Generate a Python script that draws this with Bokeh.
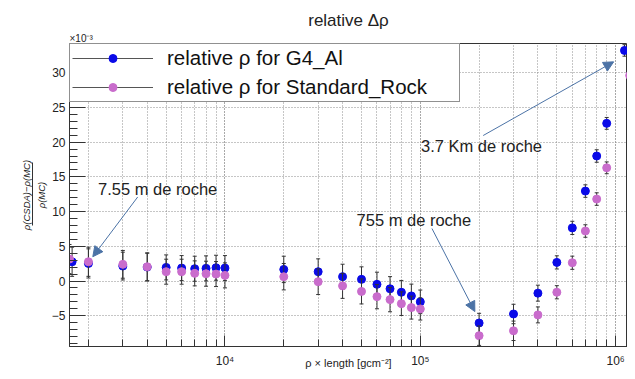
import math
from bokeh.plotting import figure
from bokeh.models import (Range1d, FixedTicker, Label, Arrow, NormalHead, Title,
                          Legend, LegendItem, LinearAxis)
from bokeh.embed import file_html
from bokeh.resources import INLINE

FONT = "Liberation Sans"
TXT = "#222222"

# ---- data (values in units of 1e-3) ----
x_al = [1650, 2000, 3000, 4000, 5000, 6000, 7000, 8000, 9000, 10000,
        20000, 30000, 40000, 50000, 60000, 70000, 80000, 90000, 100000,
        200000, 300000, 400000, 500000, 600000, 700000, 800000, 900000, 1110000]
y_al = [2.77, 2.53, 2.15, 2.0, 1.96, 1.86, 1.77, 1.82, 1.91, 1.86,
        1.67, 1.34, 0.62, 0.24, -0.48, -1.12, -1.62, -2.15, -3.0,
        -6.05, -4.75, -1.75, 2.68, 7.65, 12.95, 18.0, 22.7, 33.2]
err_al = [2.1, 2.1, 2.0, 2.0, 1.8, 1.8, 1.8, 1.8, 1.8, 1.8,
          1.9, 1.85, 1.8, 1.8, 1.75, 1.75, 1.7, 1.7, 1.7,
          1.4, 1.4, 1.15, 0.95, 0.95, 0.9, 0.9, 0.85, 0.83]

x_rock = [1600, 2000, 3000, 4000, 5000, 6000, 7000, 8000, 9000, 10000,
          20000, 30000, 40000, 50000, 60000, 70000, 80000, 90000, 100000,
          200000, 300000, 400000, 500000, 600000, 700000, 800000, 900000, 1180000]
y_rock = [3.16, 2.77, 2.4, 2.05, 1.34, 1.34, 1.1, 1.05, 1.0, 0.81,
          0.62, -0.1, -0.7, -1.5, -2.25, -2.68, -3.26, -3.83, -4.02,
          -7.87, -7.17, -4.88, -1.62, 2.63, 7.2, 11.8, 16.3, 29.6]
err_rock = [2.1, 2.1, 2.0, 2.0, 1.8, 1.8, 1.8, 1.8, 1.8, 1.8,
            1.9, 1.85, 1.8, 1.8, 1.75, 1.75, 1.7, 1.65, 1.6,
            1.4, 1.4, 1.15, 0.95, 0.95, 0.9, 0.9, 0.85, 0.83]

labels_series = ["relative \u03c1 for G4_Al", "relative \u03c1 for Standard_Rock"]
colors_series = ["#0a0ae8", "#c96ccc"]

title_text = "relative \u0394\u03c1"
y_scale_text = "\u00d710\u207b\u00b3"
x_title = "\u03c1 \u00d7 length [gcm\u207b\u00b2]"
y_title_num = "\u03c1(CSDA)\u2212\u03c1(MC)"
y_title_den = "\u03c1(MC)"

x_major = [10000, 100000, 1000000]
x_major_labels = ["10\u2074", "10\u2075", "10\u2076"]
x_minor = [m * 10 ** e for e in (3, 4, 5, 6) for m in range(1, 10)]
y_major = [-5, 0, 5, 10, 15, 20, 25, 30]
y_major_labels = ["\u22125", "0", "5", "10", "15", "20", "25", "30"]
y_minor = list(range(-9, 35))

x_min, x_max = 1600, 1.15e6
y_min, y_max = -9.43, 34.2
frac_bar = (8.0, 17.0)   # extent of the fraction bar of the y title (y data units)

# annotations: text, text position, arrow start, arrow end (data units)
notes = [
    ("7.55 m de roche", (2240, 13.3), (3575, 12.1), (2106, 3.5)),
    ("755 m de roche", (47160, 8.75), (114700, 7.56), (190200, -4.4)),
    ("3.7 Km de roche", (100800, 19.5), (209800, 20.95), (977000, 31.56)),
]

p = figure(width=627, height=371, x_axis_type="log", title=None,
           x_range=Range1d(x_min, x_max), y_range=Range1d(y_min, y_max),
           output_backend="svg", toolbar_location=None,
           min_border_left=69, min_border_right=0,
           min_border_top=43, min_border_bottom=24)
p.background_fill_color = "white"
p.border_fill_color = "white"
p.outline_line_color = "#333333"

# axes
p.xaxis.ticker = FixedTicker(ticks=x_major, minor_ticks=x_minor)
p.xaxis.major_label_overrides = dict(zip(x_major, x_major_labels))
p.yaxis.ticker = FixedTicker(ticks=y_major, minor_ticks=y_minor)
p.yaxis.major_label_overrides = dict(zip(y_major, y_major_labels))
for ax in (p.xaxis, p.yaxis):
    ax.axis_line_color = "#333333"
    ax.major_tick_line_color = "#333333"
    ax.minor_tick_line_color = "#333333"
    ax.major_tick_out = 0
    ax.minor_tick_out = 0
    ax.major_label_text_font = FONT
    ax.major_label_text_font_size = "12px"
    ax.major_label_text_color = TXT
p.xaxis.major_tick_in = 11
p.xaxis.minor_tick_in = 7
p.xaxis.major_label_standoff = 7
p.xaxis.axis_label = x_title
p.xaxis.axis_label_text_font = FONT
p.xaxis.axis_label_text_font_size = "11px"
p.xaxis.axis_label_text_font_style = "normal"
p.xaxis.axis_label_text_color = TXT
p.xaxis.axis_label_standoff = -14
p.yaxis.major_tick_in = 16
p.yaxis.minor_tick_in = 8
p.yaxis.major_label_standoff = 4

# grids
p.xgrid.grid_line_color = "#8c8c8c"
p.xgrid.grid_line_dash = "1 2"
p.xgrid.minor_grid_line_color = "#8c8c8c"
p.xgrid.minor_grid_line_dash = "1 2"
p.ygrid.grid_line_color = "#8c8c8c"
p.ygrid.grid_line_dash = "1 2"

# titles above (first added = closest to the frame)
p.add_layout(Title(text=y_scale_text, align="left", text_font=FONT, text_font_size="10px",
                   text_font_style="normal", text_color=TXT, standoff=0), "above")
p.add_layout(Title(text=title_text, align="center", text_font=FONT, text_font_size="17px",
                   text_font_style="normal", text_color=TXT, standoff=1), "above")

# y title as a fraction on the left
p.add_layout(Title(text=y_title_den, align="center", text_font=FONT, text_font_size="9.5px",
                   text_font_style="italic", text_color=TXT, standoff=3), "left")
bar_axis = LinearAxis(bounds=frac_bar, ticker=FixedTicker(ticks=[]),
                      axis_line_color="#333333", major_tick_line_color=None,
                      minor_tick_line_color=None, major_label_text_font_size="0px",
                      major_label_standoff=0, major_tick_out=0, major_tick_in=0)
p.add_layout(bar_axis, "left")
p.add_layout(Title(text=y_title_num, align="center", text_font=FONT, text_font_size="9.5px",
                   text_font_style="italic", text_color=TXT, standoff=2), "left")

# series
items = []
for xs, ys, es, col, lab in ((x_al, y_al, err_al, colors_series[0], labels_series[0]),
                             (x_rock, y_rock, err_rock, colors_series[1], labels_series[1])):
    lo = [y - e for y, e in zip(ys, es)]
    hi = [y + e for y, e in zip(ys, es)]
    p.segment(x0=xs, y0=lo, x1=xs, y1=hi, line_color="#333333", line_width=1)
    p.scatter(xs, hi, marker="dash", size=4, line_color="#333333")
    p.scatter(xs, lo, marker="dash", size=4, line_color="#333333")
    sc = p.scatter(xs, ys, size=8, fill_color=col, line_color=col)
    ln = p.line(x=[math.nan], y=[math.nan], line_color="#555555", line_width=1)
    items.append(LegendItem(label=lab, renderers=[ln, sc]))

legend = Legend(items=items, location="top_left", margin=0, padding=2, spacing=5,
                glyph_width=81, glyph_height=20, label_standoff=14,
                label_width=290, label_height=20,
                label_text_font=FONT, label_text_font_size="20.5px",
                label_text_color="#111111",
                border_line_color="#222222", border_line_width=1,
                background_fill_color="white", background_fill_alpha=1.0)
p.add_layout(legend)

# annotations
ARROW = "#4c73a6"
for text, (tx, ty), (x0, y0), (x1, y1) in notes:
    p.add_layout(Label(x=tx, y=ty, text=text, text_align="left", text_baseline="middle",
                       text_font=FONT, text_font_size="16.5px", text_color=TXT))
    p.add_layout(Arrow(x_start=x0, y_start=y0, x_end=x1, y_end=y1,
                       line_color=ARROW, line_width=1,
                       end=NormalHead(size=10, fill_color=ARROW, line_color=ARROW)))

open("out.html", "w").write(file_html(p, INLINE))
